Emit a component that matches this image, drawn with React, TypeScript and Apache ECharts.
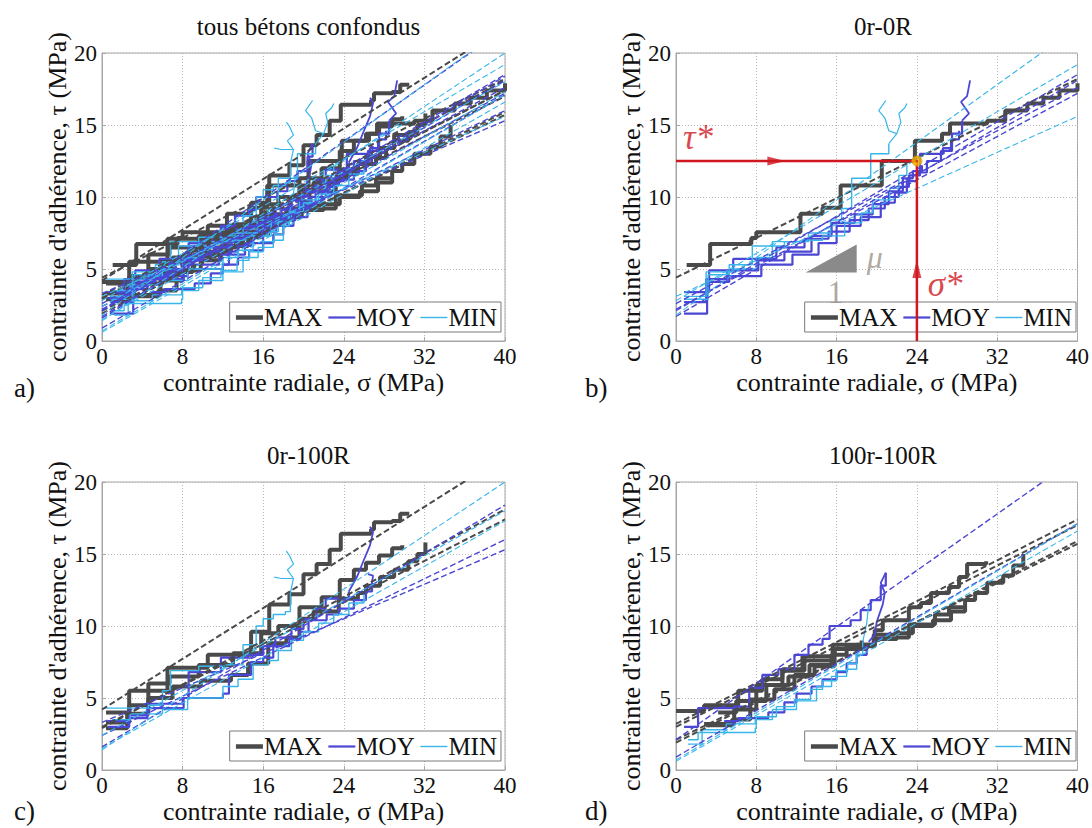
import React, { useEffect, useRef } from "react";
import * as echarts from "echarts";

// ---------- axes ----------
const X_MIN = 0, X_MAX = 40, X_STEP = 8;
const Y_MIN = 0, Y_MAX = 20, Y_STEP = 5;
const panelTitles = ["tous bétons confondus", "0r-0R", "0r-100R", "100r-100R"];
const panelLetters = ["a)", "b)", "c)", "d)"];
const xName = "contrainte radiale, σ (MPa)";
const yName = "contrainte d'adhérence, τ (MPa)";
const groups = ["MAX", "MOY", "MIN"];

// ---------- panel b : 0r-0R ----------
const bMax1 = [[1.06,5.27],[3.4,6.74],[7.5,7.15],[8.0,7.55],[12.4,8.83],[14.6,9.25],[16.4,10.8],[20.5,12.5],[23.8,13.9],[26.5,14.4],[27.3,15.1],[31,15.3],[32.8,16.0],[35,16.5],[36.6,16.9],[38.2,17.4],[40,17.9]];
const bMoy1 = [[0.8,1.9],[3.1,4.1],[5.3,4.5],[8.5,5.3],[11.6,6.0],[14.2,6.8],[16.0,8.0],[18.4,8.6],[20.4,9.6],[21.8,10.3],[23.0,11.1],[24.0,11.7],[25.0,12.5],[26.4,13.2],[27.5,14.4],[28.5,15.3]];
const bMoy1Tail = [[28.5,15.3],[29.2,15.8],[28.4,16.6],[29.0,17.0],[29.3,18.1]];
const bMoy2 = [[0.8,3.4],[3.3,4.9],[5.7,5.7],[10,6.5],[12.8,7.1],[15.2,7.6],[17.3,8.4],[19.2,9.2],[20.8,10.0],[22.2,10.7],[23.2,11.5],[24.3,13.0],[26.6,13.4],[27.4,14.0],[28.2,14.6]];
const bMoy3 = [[0.8,2.7],[3.0,4.3],[5.1,4.9],[8.2,5.6],[10.8,6.2],[13.5,7.3],[15.5,8.2],[17.8,8.8],[19.6,9.5],[21.2,10.4],[22.6,11.3],[23.6,11.8],[24.5,12.2]];
const bMin1 = [[0.8,2.9],[3.2,4.6],[5.3,5.3],[7.6,6.6],[10.8,6.9],[13.2,7.5],[15.4,8.4],[16.5,9.2],[17.5,11.3],[19.4,13.0],[21.2,13.7]];
const bMin1Tail = [[21.2,13.7],[22.0,14.4],[22.4,15.2],[22.2,15.8],[22.8,16.2],[23.0,16.5]];
const bMin1Branch = [[22.0,14.4],[21.2,14.6],[20.8,15.5],[20.2,16.0],[20.9,16.7]];
const bMin2 = [[0.8,3.1],[3.0,4.8],[5.6,5.0],[8.0,5.8],[9.6,6.9],[12.6,7.0],[14.6,7.3],[16.8,8.2],[18.5,8.9],[19.6,9.8],[21.3,10.6],[22.2,11.5],[23.0,12.3]];
// regression lines : [intercept, slope]
const bFitMax = [[4.4,0.345]];
const bFitMoy = [[2.1,0.41],[1.7,0.41],[2.6,0.375],[2.2,0.375]];
const bFitMin = [[1.8,0.50],[2.8,0.41],[3.1,0.3125]];

// ---------- panel c : 0r-100R ----------
const cMax1 = [[0.4,4.0],[2.7,5.5],[6.5,7.1],[10.5,8.0],[14.8,9.6],[16.6,11.5],[18.6,12.2],[20.0,13.6],[21.3,14.3],[22.6,15.3],[23.7,16.4],[26.7,16.7],[27.0,17.2],[28.8,17.3],[29.6,17.8],[30.5,17.8]];
const cMax2 = [[0.4,3.3],[2.7,4.5],[4.6,6.0],[6.7,6.5],[9.6,7.3],[13.0,8.1],[15.8,9.5],[17.5,10.0],[19.6,11.3],[21.8,12.0],[23.6,13.2],[25.0,13.9],[26.2,14.4],[27.5,14.9],[28.8,15.4],[29.8,15.6]];
const cMax3 = [[0.4,2.9],[2.5,3.9],[4.6,5.0],[7.0,5.8],[9.8,6.2],[12.8,6.6],[14.5,7.4],[16.5,8.8],[18.3,9.2],[19.6,10.5],[21.0,11.0],[23.5,11.9],[25.4,12.3],[26.2,12.8],[27.6,13.4],[29.0,13.9],[30.4,14.5],[31.3,15.0],[32.1,15.8]];
const cMoy1 = [[0.6,3.0],[2.7,3.6],[4.5,4.3],[8.1,5.0],[8.6,6.8],[11.8,7.8],[14.5,8.0],[16.0,8.6],[17.2,9.2],[18.8,9.8],[20.0,10.5],[21.3,11.2],[22.2,11.9],[24.5,12.4]];
const cMoy1Tail = [[24.5,12.4],[25.3,13.4],[26.0,14.6],[26.6,15.6],[26.9,16.5],[26.6,16.9]];
const cMoy2 = [[0.6,3.4],[2.7,3.8],[4.6,4.6],[8.0,5.0],[12.0,5.3],[12.6,6.6],[14.8,7.5],[16.0,7.8],[17.0,8.6],[18.6,9.1],[19.6,9.6],[20.5,10.4],[22.3,10.8],[23.5,11.2],[25.0,11.8],[26.2,12.4],[26.8,13.0]];
const cMoy2Tail = [[26.8,13.0],[26.9,13.5],[26.4,13.6]];
const cMin1 = [[0.3,4.3],[2.6,4.3],[4.6,4.5],[6.0,5.5],[6.8,6.9],[9.6,7.2],[12.0,7.3],[14.0,8.7],[15.3,10.0],[16.0,10.5],[17.0,10.8],[18.2,11.0],[18.7,12.3]];
const cMin1Tail = [[18.7,12.3],[19.0,13.3],[18.4,13.9],[19.0,14.3],[18.6,14.9],[18.3,15.2]];
const cMin1Branch = [[19.0,13.3],[17.8,13.3],[17.1,13.4]];
const cMin2 = [[1.0,3.5],[2.8,3.9],[6.0,4.2],[8.5,5.0],[12.0,5.8],[13.5,6.3],[15.0,7.3],[16.5,7.6],[17.5,8.3],[18.8,9.0],[20.0,9.6],[21.5,10.2],[23.0,10.8],[24.5,11.6],[26.0,12.2]];
const cFitMax = [[4.2,0.44],[2.9,0.38],[3.0,0.36]];
const cFitMoy = [[1.6,0.42],[2.4,0.34],[3.3,0.30]];
const cFitMin = [[1.4,0.465],[1.5,0.395],[2.4,0.39]];

// ---------- panel d : 100r-100R ----------
const dMax1 = [[0,4.1],[2.8,4.5],[6.2,5.5],[8.6,6.3],[10.6,6.9],[12.8,7.6],[15.6,8.7],[19.8,9.7],[20.6,10.4],[23.2,11.3],[24.4,11.6],[25.4,12.3],[27.2,12.7],[28.2,13.4],[29.0,14.3],[30.9,14.5]];
const dMax2 = [[3.0,3.1],[5.6,3.5],[7.4,4.9],[9.8,5.6],[11.8,6.6],[13.8,7.2],[15.8,8.4],[19.0,8.6],[19.8,9.1],[22.0,9.2],[23.2,10.1],[25.8,10.8],[27.2,11.3],[28.6,11.4]];
const dMax3 = [[2.8,3.2],[5.8,4.2],[8.0,5.9],[10.6,7.0],[12.6,7.9],[15.8,8.4],[18.0,8.7],[19.7,9.4],[22.0,9.5],[23.6,10.0],[25.6,10.4],[27.4,11.0],[28.8,11.8],[29.8,12.3],[31.0,13.0],[32.6,13.5],[33.6,14.2],[34.6,15.0]];
const dMax4 = [[4.2,4.0],[6.0,4.8],[9.0,5.9],[11.2,6.5],[13.3,7.3],[15.5,8.0],[17.0,8.6],[18.5,9.0]];
const dMoy1 = [[0.8,3.0],[2.2,4.3],[5.8,4.4],[7.3,5.7],[8.6,6.6],[10.2,7.0],[11.8,8.0],[13.2,8.7],[14.6,9.1],[15.3,10.0],[17.4,10.4],[18.4,11.1],[19.4,11.8],[20.4,12.8],[20.9,13.7]];
const dMoy1Tail = [[20.9,13.7],[20.4,13.0],[20.8,12.3],[20.6,11.5],[20.0,10.3],[19.8,9.4],[19.2,8.9]];
const dMoy2 = [[4.8,3.4],[6.2,3.6],[9.2,4.0],[10.8,4.7],[12.0,5.3],[13.5,5.8],[14.6,6.3],[16.0,6.8],[17.0,7.4],[18.0,8.0],[19.0,8.6]];
const dMin1 = [[1.2,2.1],[2.2,2.6],[7.9,2.9],[8.0,3.7],[10.0,4.4],[11.8,4.9],[13.4,5.6],[14.6,6.2],[16.0,6.9],[17.1,7.4],[18.0,8.0],[18.6,8.9]];
const dMin1Tail = [[18.6,8.9],[19.0,10.2],[19.2,11.5]];
const dMin2 = [[1.2,1.8],[2.6,2.8],[5.0,3.2],[7.9,3.5],[9.6,4.2],[12.0,4.8],[14.0,5.8],[15.5,6.5],[17.0,7.0],[18.0,7.6]];
const dFitMax = [[3.2,0.355],[3.0,0.35],[1.9,0.35],[2.1,0.34]];
const dFitMoy = [[2.1,0.49],[0.9,0.405]];
const dFitMin = [[0.7,0.41],[0.6,0.40]];

// ---------- annotations of panel b ----------
const tauStar = 12.5;
const sigmaStar = 24;
const slopeTriangle = [[12.9, 4.75, 18.0, 6.7]];
const annotTexts = [
  { x: 2.2, y: 14.1, text: "τ*", kind: "red", italic: true },
  { x: 26.8, y: 3.9, text: "σ*", kind: "red", italic: true },
  { x: 19.8, y: 5.8, text: "μ", kind: "grey", italic: true },
  { x: 15.9, y: 3.4, text: "1", kind: "grey", italic: false },
];

type Panel = { steps: Record<string, number[][][]>; tails: Record<string, number[][][]>; fits: Record<string, number[][]> };
const panelB: Panel = {
  steps: { MAX: [bMax1], MOY: [bMoy1, bMoy2, bMoy3], MIN: [bMin1, bMin2] },
  tails: { MAX: [], MOY: [bMoy1Tail], MIN: [bMin1Tail, bMin1Branch] },
  fits: { MAX: bFitMax, MOY: bFitMoy, MIN: bFitMin },
};
const panelC: Panel = {
  steps: { MAX: [cMax1, cMax2, cMax3], MOY: [cMoy1, cMoy2], MIN: [cMin1, cMin2] },
  tails: { MAX: [], MOY: [cMoy1Tail, cMoy2Tail], MIN: [cMin1Tail, cMin1Branch] },
  fits: { MAX: cFitMax, MOY: cFitMoy, MIN: cFitMin },
};
const panelD: Panel = {
  steps: { MAX: [dMax1, dMax2, dMax3, dMax4], MOY: [dMoy1, dMoy2], MIN: [dMin1, dMin2] },
  tails: { MAX: [], MOY: [dMoy1Tail], MIN: [dMin1Tail] },
  fits: { MAX: dFitMax, MOY: dFitMoy, MIN: dFitMin },
};
const merge = (ps: Panel[]): Panel => {
  const out: Panel = { steps: {}, tails: {}, fits: {} };
  groups.forEach((g) => {
    out.steps[g] = ps.flatMap((p) => p.steps[g]);
    out.tails[g] = ps.flatMap((p) => p.tails[g]);
    out.fits[g] = ps.flatMap((p) => p.fits[g]);
  });
  return out;
};
const panels = [merge([panelB, panelC, panelD]), panelB, panelC, panelD];

// ---------- styles ----------
const COLOR: Record<string, string> = { MAX: "#4a4a4a", MOY: "#4b47d4", MIN: "#38b6ea" };
const LW: Record<string, number> = { MAX: 4, MOY: 2.2, MIN: 1.4 };
const LEGW: Record<string, number> = { MAX: 4.5, MOY: 2.2, MIN: 1.4 };
const TAILW: Record<string, number> = { MAX: 3, MOY: 1.8, MIN: 1.2 };
const FITW: Record<string, number> = { MAX: 2, MOY: 1.4, MIN: 1.1 };
const RED = "#d0161e";
const FONT = "'Liberation Serif', 'Times New Roman', serif";
const grids = [
  { left: 102, top: 53, width: 403, height: 288 },
  { left: 676, top: 53, width: 404, height: 288 },
  { left: 102, top: 482, width: 403, height: 288 },
  { left: 676, top: 482, width: 404, height: 288 },
];
const legendPos = [
  { right: 591, top: 302 },
  { right: 16, top: 302 },
  { right: 591, top: 731 },
  { right: 16, top: 731 },
];

function buildOption() {
  const series: any[] = [];
  panels.forEach((p, gi) => {
    groups.forEach((g) => {
      p.steps[g].forEach((pts) =>
        series.push({
          name: g, type: "line", xAxisIndex: gi, yAxisIndex: gi, data: pts, step: "end",
          symbol: "none", silent: true, lineStyle: { color: COLOR[g], width: LW[g] },
          itemStyle: { color: COLOR[g] }, z: 2,
        })
      );
      p.tails[g].forEach((pts) =>
        series.push({
          name: g + " ", type: "line", xAxisIndex: gi, yAxisIndex: gi, data: pts,
          symbol: "none", silent: true, lineStyle: { color: COLOR[g], width: TAILW[g] }, z: 2,
        })
      );
    });
    groups.forEach((g) => {
      p.fits[g].forEach(([a, s]) =>
        series.push({
          name: g + " fit", type: "line", xAxisIndex: gi, yAxisIndex: gi,
          data: [[X_MIN, a], [X_MAX, a + s * X_MAX]], symbol: "none", silent: true, clip: true,
          lineStyle: { color: COLOR[g], width: FITW[g], type: [6, 3] }, z: 3,
        })
      );
    });
  });

  // annotations (panel b)
  series.push({
    type: "custom", xAxisIndex: 1, yAxisIndex: 1, data: slopeTriangle, silent: true, z: 4,
    renderItem: (_p: any, api: any) => {
      const a = api.coord([api.value(0), api.value(1)]);
      const b = api.coord([api.value(2), api.value(1)]);
      const c = api.coord([api.value(2), api.value(3)]);
      return { type: "polygon", shape: { points: [a, b, c] }, style: { fill: "#8a8a8a" } };
    },
  });
  series.push({
    type: "line", xAxisIndex: 1, yAxisIndex: 1, data: [[X_MIN, tauStar], [sigmaStar, tauStar]],
    symbol: "none", silent: true, lineStyle: { color: RED, width: 2.5 }, z: 5,
  });
  series.push({
    type: "line", xAxisIndex: 1, yAxisIndex: 1, data: [[sigmaStar, Y_MIN], [sigmaStar, tauStar]],
    symbol: "none", silent: true, lineStyle: { color: RED, width: 2.5 }, z: 5,
  });
  series.push({
    type: "scatter", xAxisIndex: 1, yAxisIndex: 1, silent: true, z: 6,
    data: [
      { value: [10, tauStar], symbolRotate: -90 },
      { value: [sigmaStar, 5.0], symbolRotate: 0 },
    ],
    symbol: "triangle", symbolSize: [9, 18], itemStyle: { color: RED },
  });
  series.push({
    type: "scatter", xAxisIndex: 1, yAxisIndex: 1, silent: true, z: 7,
    data: [[sigmaStar, tauStar]], symbol: "circle", symbolSize: 10,
    itemStyle: { color: "#f5b400", borderColor: "#e89a00", borderWidth: 1 },
  });
  series.push({
    type: "scatter", xAxisIndex: 1, yAxisIndex: 1, silent: true, z: 7,
    data: [[sigmaStar, tauStar]], symbol: "circle", symbolSize: 2.5, itemStyle: { color: "#c0201a" },
  });
  series.push({
    type: "scatter", xAxisIndex: 1, yAxisIndex: 1, silent: true, z: 8, symbolSize: 1,
    itemStyle: { color: "rgba(0,0,0,0)" },
    data: annotTexts.map((t) => ({
      value: [t.x, t.y],
      label: {
        show: true, position: "inside", formatter: t.text, fontFamily: FONT,
        fontStyle: t.italic ? "italic" : "normal",
        fontSize: t.kind === "red" ? 35 : 32,
        color: t.kind === "red" ? RED : "#9c9388",
      },
    })),
  });

  return {
    animation: false,
    backgroundColor: "#ffffff",
    textStyle: { fontFamily: FONT },
    title: grids.map((g, i) => ({
      text: panelTitles[i], left: g.left + g.width / 2, top: g.top - 44, textAlign: "center",
      textStyle: { fontFamily: FONT, fontSize: 25, fontWeight: "normal", color: "#111" },
    })),
    graphic: grids.map((g, i) => ({
      type: "text", left: g.left - (i % 2 === 0 ? 88 : 91), top: i < 2 ? 374 : 797,
      style: { text: panelLetters[i], font: `27px ${FONT}`, fill: "#111" },
    })),
    legend: legendPos.map((p) => ({
      ...p, orient: "horizontal", selectedMode: false,
      data: groups.map((g) => ({ name: g, lineStyle: { width: LEGW[g], color: COLOR[g] } })),
      itemWidth: 27, itemHeight: 14, itemGap: 5, padding: [3, 4, 2, 4],
      borderColor: "#7a7a7a", borderWidth: 1, backgroundColor: "#ffffff", borderRadius: 0,
      itemStyle: { color: "rgba(0,0,0,0)", borderWidth: 0, opacity: 0 },
      textStyle: { fontFamily: FONT, fontSize: 25, color: "#111", padding: [0, 0, 0, -4] },
    })),
    grid: grids.map((g) => ({ ...g, show: true, borderColor: "#a6a6a6", borderWidth: 1, backgroundColor: "transparent" })),
    xAxis: grids.map((_g, i) => ({
      gridIndex: i, type: "value", min: X_MIN, max: X_MAX, interval: X_STEP,
      name: xName, nameLocation: "middle", nameGap: 28,
      nameTextStyle: { fontFamily: FONT, fontSize: 26, color: "#111" },
      axisLine: { show: true, onZero: false, lineStyle: { color: "#a6a6a6" } },
      axisTick: { show: true, inside: true, length: 4, lineStyle: { color: "#a6a6a6" } },
      axisLabel: { fontFamily: FONT, fontSize: 23, color: "#111", margin: 4 },
      splitLine: { show: true, lineStyle: { type: [1, 2], color: "#b8b8b8" } },
    })),
    yAxis: grids.map((_g, i) => ({
      gridIndex: i, type: "value", min: Y_MIN, max: Y_MAX, interval: Y_STEP,
      name: yName, nameLocation: "middle", nameGap: 32,
      nameTextStyle: { fontFamily: FONT, fontSize: 26, color: "#111" },
      axisLine: { show: true, onZero: false, lineStyle: { color: "#a6a6a6" } },
      axisTick: { show: true, inside: true, length: 4, lineStyle: { color: "#a6a6a6" } },
      axisLabel: { fontFamily: FONT, fontSize: 23, color: "#111", margin: 5 },
      splitLine: { show: true, lineStyle: { type: [1, 2], color: "#b8b8b8" } },
    })),
    series,
  };
}

export default function App() {
  const ref = useRef<HTMLDivElement>(null);
  useEffect(() => {
    if (!ref.current) return;
    const chart = echarts.init(ref.current, undefined, { renderer: "svg" });
    chart.setOption(buildOption() as any);
    return () => chart.dispose();
  }, []);
  return (
    <div
      ref={ref}
      style={{ position: "fixed", left: 0, top: 0, width: 1092, height: 828, background: "#fff" }}
    />
  );
}
